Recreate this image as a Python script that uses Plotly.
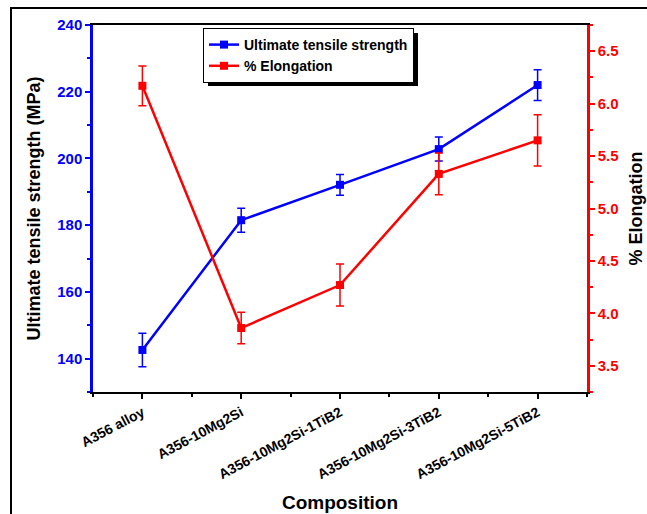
import plotly.graph_objects as go

# Composition categories
compositions = ["A356 alloy", "A356-10Mg2Si", "A356-10Mg2Si-1TiB2",
                "A356-10Mg2Si-3TiB2", "A356-10Mg2Si-5TiB2"]

# Ultimate tensile strength (MPa) with error
uts = [142.6, 181.5, 192.1, 202.8, 222.0]
uts_err = [5.0, 3.6, 3.1, 3.6, 4.6]

# Elongation (%) with error
elong = [6.17, 3.86, 4.27, 5.33, 5.65]
elong_err = [0.19, 0.15, 0.20, 0.20, 0.245]

BLUE = "#0000FF"
RED = "#FF0000"
FONT = "Arial, Liberation Sans, sans-serif"

x_idx = list(range(len(compositions)))

fig = go.Figure()
fig.add_trace(go.Scatter(
    x=x_idx, y=uts, name="<b>Ultimate tensile strength</b>",
    mode="lines+markers",
    line=dict(color=BLUE, width=2.5),
    marker=dict(symbol="square", size=8, color=BLUE),
    error_y=dict(type="data", array=uts_err, color=BLUE, thickness=1.5, width=4),
    yaxis="y"))
fig.add_trace(go.Scatter(
    x=x_idx, y=elong, name="<b>% Elongation</b>",
    mode="lines+markers",
    line=dict(color=RED, width=2.5),
    marker=dict(symbol="square", size=8, color=RED),
    error_y=dict(type="data", array=elong_err, color=RED, thickness=1.5, width=4),
    yaxis="y2"))

W, H = 647, 514
L, R, T, B = 93, 60, 25, 122
pw, ph = W - L - R, H - T - B

def px(xp):
    return (xp - L) / pw

def py(yp):
    return (H - B - yp) / ph

tick_font_x = dict(family=FONT, size=14, color="black", weight="bold")
title_font = dict(family=FONT, size=18, color="black", weight="bold")

fig.update_layout(
    width=W, height=H,
    margin=dict(l=L, r=R, t=T, b=B, pad=0, autoexpand=False),
    paper_bgcolor="white", plot_bgcolor="white",
    font=dict(family=FONT, color="black"),
    showlegend=True,
    legend=dict(
        x=px(203), y=py(28), xanchor="left", yanchor="top",
        bgcolor="white", bordercolor="black", borderwidth=1,
        font=dict(family=FONT, size=14, color="black"),
        itemwidth=30, tracegroupgap=0,
    ),
    xaxis=dict(
        range=[-0.5, 4.5], automargin=False,
        tickmode="array", tickvals=x_idx, ticktext=compositions,
        tickangle=-28,
        tickfont=tick_font_x,
        ticks="outside", ticklen=5, tickwidth=2, tickcolor="black",
        minor=dict(tickmode="array", tickvals=[-0.5, 0.5, 1.5, 2.5, 3.5, 4.5],
                   ticks="outside", ticklen=3, tickwidth=2, tickcolor="black"),
        showline=True, linecolor="black", linewidth=2, mirror=True,
        showgrid=False, zeroline=False,
        title=dict(text="Composition", font=dict(title_font, size=19), standoff=15),
    ),
    yaxis=dict(
        range=[130, 240], tick0=0, dtick=20, automargin=False,
        tickfont=dict(family=FONT, size=15, color=BLUE, weight="bold"),
        ticks="outside", ticklen=5, tickwidth=2, tickcolor=BLUE,
        minor=dict(dtick=10, ticks="outside", ticklen=3, tickwidth=2, tickcolor=BLUE),
        showline=True, linecolor=BLUE, linewidth=2.5,
        showgrid=False, zeroline=False,
        title=dict(text="Ultimate tensile strength (MPa)", font=title_font, standoff=12),
    ),
    yaxis2=dict(
        overlaying="y", side="right", automargin=False,
        range=[3.25, 6.75], tick0=3.5, dtick=0.5, tickformat=".1f",
        tickfont=dict(family=FONT, size=15, color=RED, weight="bold"),
        ticks="outside", ticklen=5, tickwidth=2, tickcolor=RED,
        minor=dict(dtick=0.25, ticks="outside", ticklen=3, tickwidth=2, tickcolor=RED),
        showline=True, linecolor=RED, linewidth=2.5,
        showgrid=False, zeroline=False,
        title=dict(text="% Elongation", font=title_font, standoff=12),
    ),
    shapes=[
        # outer frame around the whole figure
        dict(type="rect", xref="paper", yref="paper",
             x0=px(11), x1=px(660), y0=py(530), y1=py(8),
             line=dict(color="black", width=2), fillcolor="rgba(0,0,0,0)", layer="below"),
        # drop shadow behind the legend box
        dict(type="rect", xref="paper", yref="paper",
             x0=px(208), x1=px(418), y0=py(86), y1=py(33),
             line=dict(width=0), fillcolor="black", layer="above"),
    ],
)

fig.write_html("out.html")
